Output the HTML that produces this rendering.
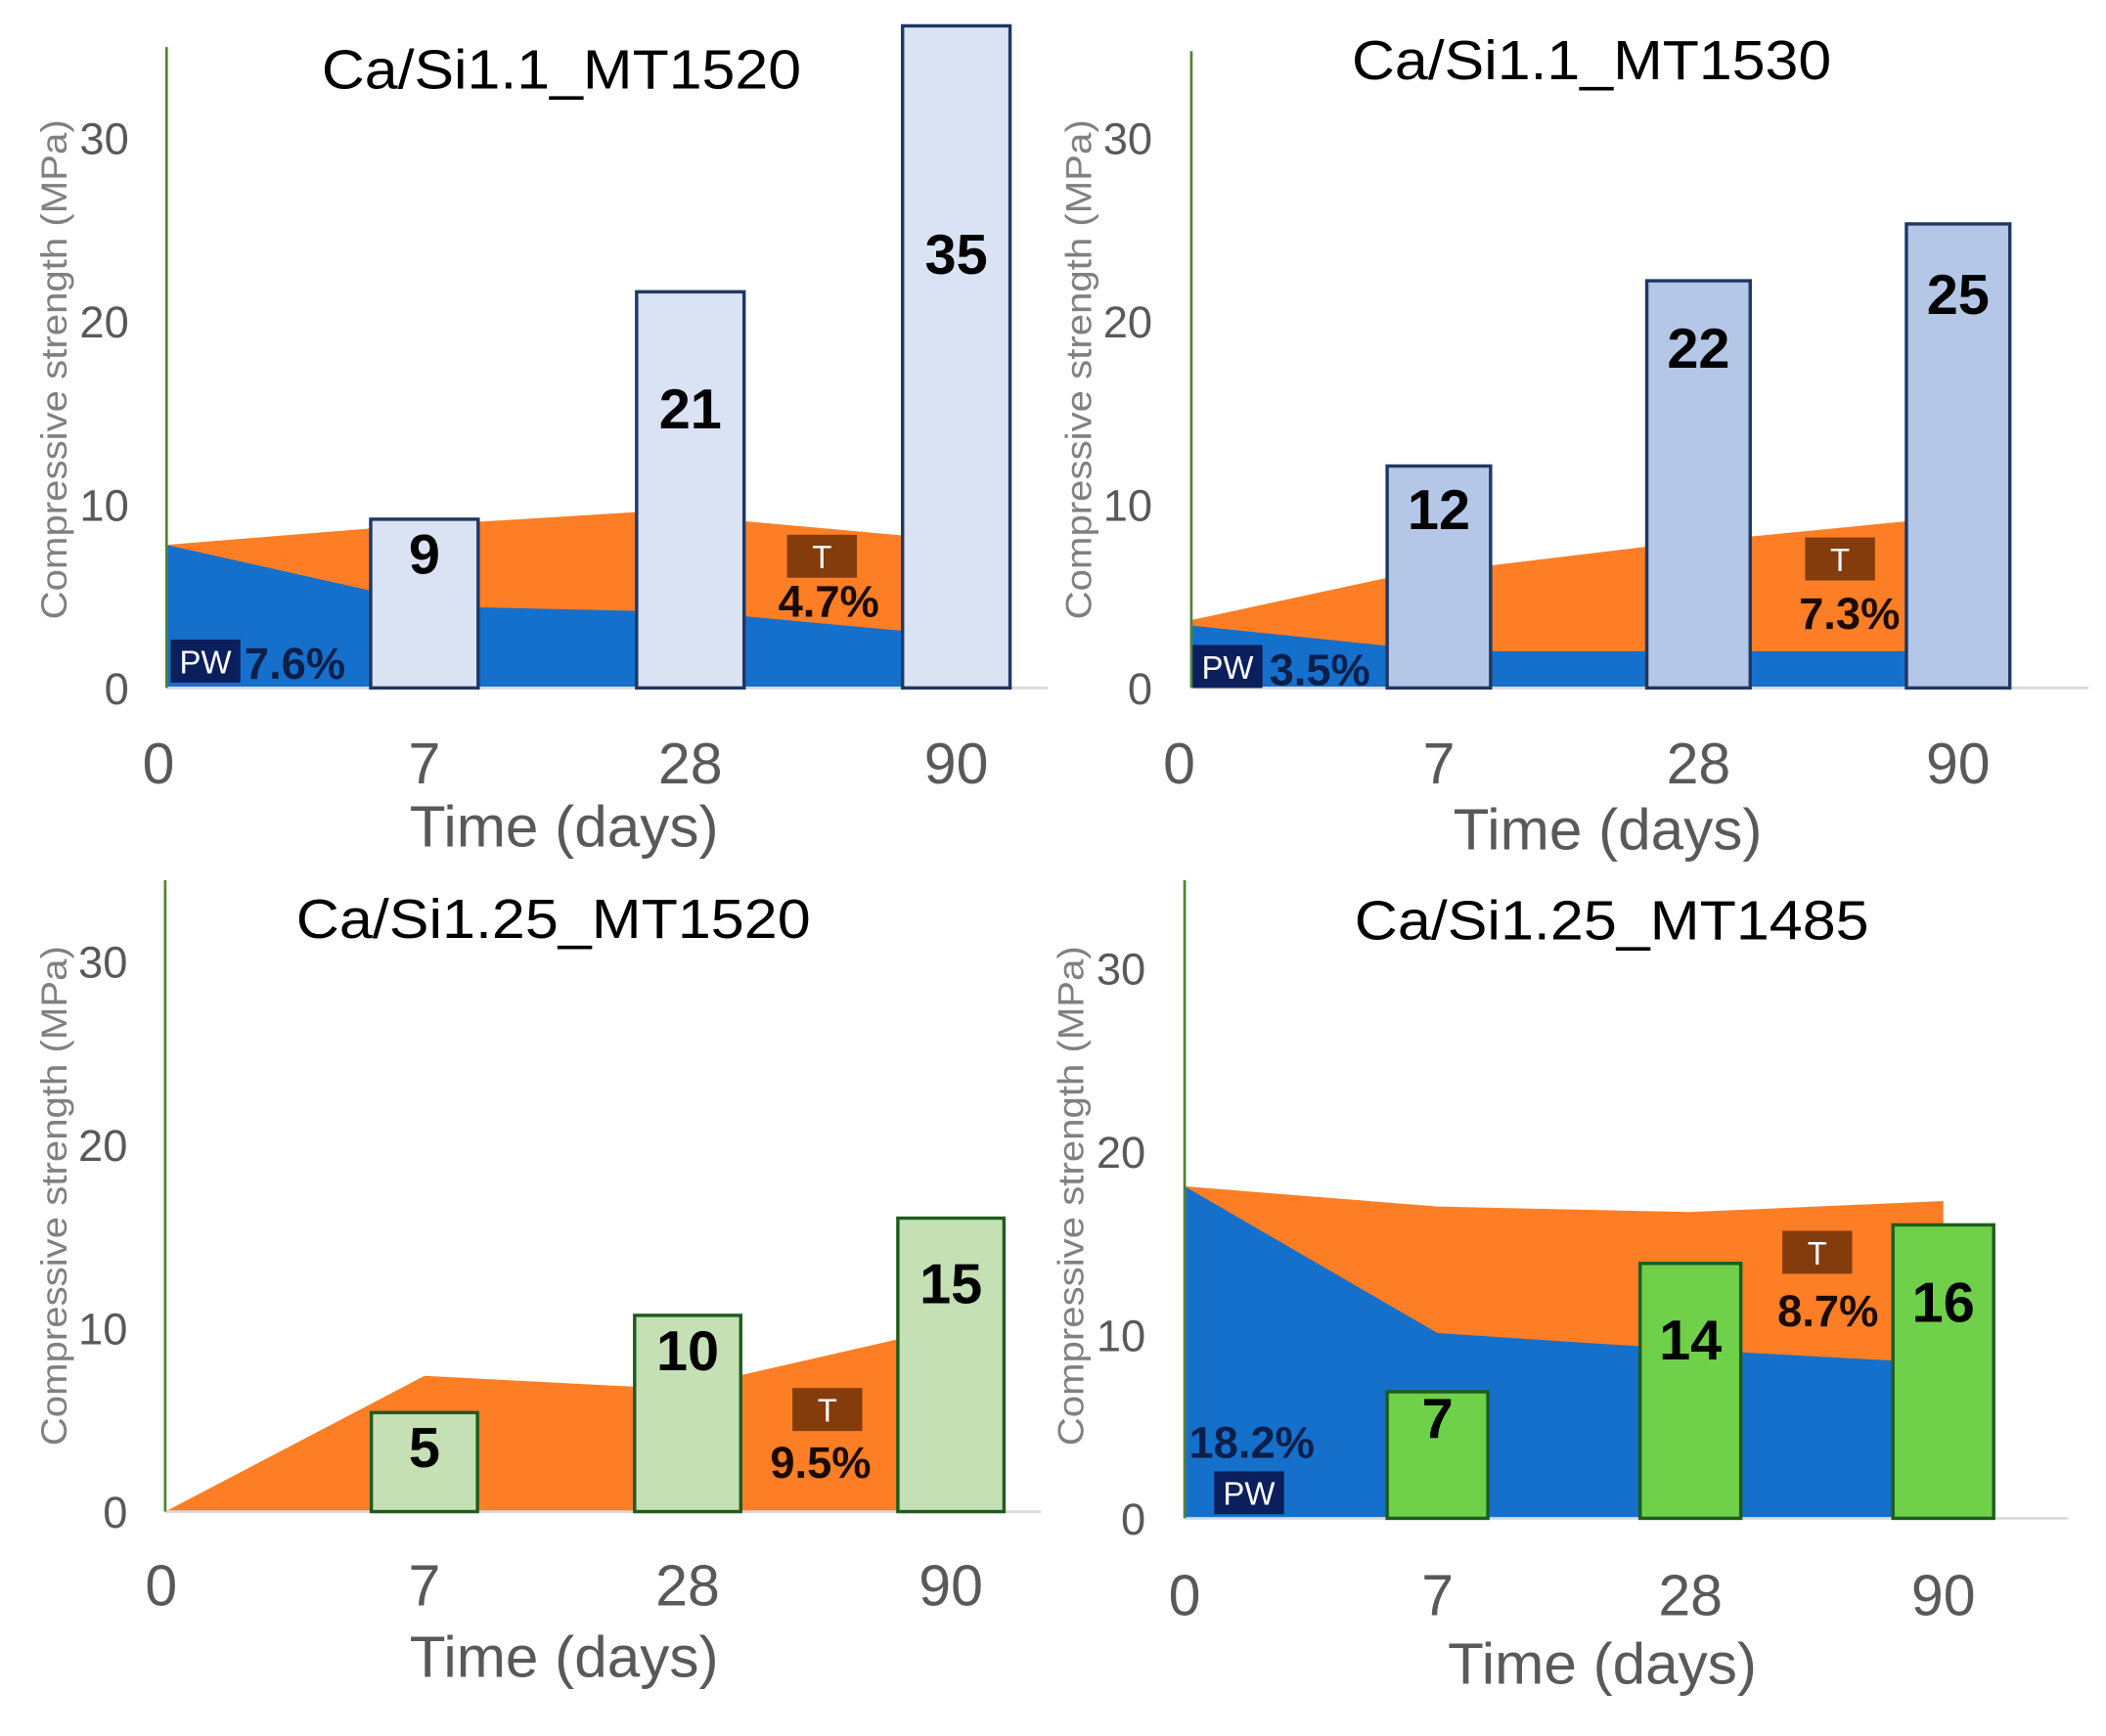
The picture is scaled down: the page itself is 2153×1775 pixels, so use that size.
<!DOCTYPE html>
<html><head><meta charset="utf-8">
<style>
html,body{margin:0;padding:0;background:#fff;}
svg{display:block;font-family:"Liberation Sans",Arial,sans-serif;}
</style></head>
<body>
<svg id="chart" width="2153" height="1775" viewBox="0 0 1568 1292" preserveAspectRatio="none" xmlns="http://www.w3.org/2000/svg"></svg>
<script>
// ---- data ----
const categories = ["0","7","28","90"];
const yTicks = [0,10,20,30];
const titles = ["Ca/Si1.1_MT1520","Ca/Si1.1_MT1530","Ca/Si1.25_MT1520","Ca/Si1.25_MT1485"];
const barValues1 = [9.2,21.6,36.1];
const barValues2 = [12.1,22.2,25.3];
const barValues3 = [5.4,10.7,16.0];
const barValues4 = [6.9,13.9,16.0];
const barLabels1 = ["9","21","35"];
const barLabels2 = ["12","22","25"];
const barLabels3 = ["5","10","15"];
const barLabels4 = ["7","14","16"];
const tAreaX1 = [0,0.8,1.81,2.81];
const tAreaY1 = [7.8,8.7,9.6,8.3];
const pwAreaX1 = [0,0.8,1.2,1.81,2.21,2.81];
const pwAreaY1 = [7.8,5.3,4.4,4.2,3.9,3.1];
const tAreaX2 = [0,0.8,1.8,2.81];
const tAreaY2 = [3.7,6.0,7.7,9.1];
const pwAreaX2 = [0,0.8,1.2,1.8,2.81];
const pwAreaY2 = [3.4,2.3,2.0,2.0,2.0];
const tAreaX3 = [0,1.0,1.81,2.19,2.8];
const tAreaY3 = [0,7.4,6.8,7.4,9.4];
const pwAreaX3 = [];
const pwAreaY3 = [];
const tAreaX4 = [0,1,2,3];
const tAreaY4 = [18.1,17.0,16.7,17.3];
const pwAreaX4 = [0,1,2,2.8];
const pwAreaY4 = [18.1,10.1,9.2,8.6];
const tPercents = ["4.7%","7.3%","9.5%","8.7%"];
const pwPercents = ["7.6%","3.5%","","18.2%"];

// ---- layout (styles / positions) ----
const NS="http://www.w3.org/2000/svg";
const svg=document.getElementById('chart');
const panels=[
 {axisX:124,y0:512,top:35,a:118,b:198,bw:80,baseEnd:780,tickX:96,titleX:418,titleY:52,xlabY:568,timeX:420,timeY:615,ytX:40,ytY:275,
  fill:"#dae3f3",stroke:"#1f3864",labY:[413,305,190],bars:barValues1,labs:barLabels1,tx:tAreaX1,ty:tAreaY1,px:pwAreaX1,py:pwAreaY1,
  T:[586,398],Tp:[617,447],PW:[127,476],PWp:[182,493]},
 {axisX:887,y0:512,top:38,a:878,b:193.3,bw:77,baseEnd:1555,tickX:858,titleX:1185,titleY:45,xlabY:568,timeX:1197,timeY:617,ytX:803,ytY:275,
  fill:"#b4c7e7",stroke:"#1f3864",labY:[380,260,220],bars:barValues2,labs:barLabels2,tx:tAreaX2,ty:tAreaY2,px:pwAreaX2,py:pwAreaY2,
  T:[1344,400],Tp:[1377,456],PW:[888,480],PWp:[945,498]},
 {axisX:123,y0:1125,top:655,a:120,b:196,bw:79,baseEnd:775,tickX:95,titleX:412,titleY:684,xlabY:1180,timeX:420,timeY:1233,ytX:40,ytY:890,
  fill:"#c5e0b4",stroke:"#1e5c1e",labY:[1078,1006,956],bars:barValues3,labs:barLabels3,tx:tAreaX3,ty:tAreaY3,px:pwAreaX3,py:pwAreaY3,
  T:[590,1033],Tp:[611,1088],PW:null,PWp:null},
 {axisX:882,y0:1130,top:655,a:882,b:188.3,bw:75,baseEnd:1540,tickX:853,titleX:1200,titleY:685,xlabY:1187,timeX:1193,timeY:1238,ytX:797,ytY:890,
  fill:"#6fd04a",stroke:"#1e5c1e",labY:[1056,998,970],bars:barValues4,labs:barLabels4,tx:tAreaX4,ty:tAreaY4,px:pwAreaX4,py:pwAreaY4,
  T:[1327,916],Tp:[1361,975],PW:[904,1095],PWp:[932,1073]}
];
const scale=13.65;
function mk(tag,attrs,parent){const e=document.createElementNS(NS,tag);for(const k in attrs)e.setAttribute(k,attrs[k]);(parent||svg).appendChild(e);return e;}
function txt(s,attrs,parent){const e=mk('text',attrs,parent);e.textContent=s;return e;}

panels.forEach((p,i)=>{
  const g=mk('g',{});
  
  
  const yS=v=>p.y0-v*scale;
  const xS=s=>Math.max(p.axisX,p.a+s*p.b);
  function area(xs,ys,color,name){
    if(!xs.length)return;
    let d='M'+xS(xs[0])+','+p.y0;
    xs.forEach((s,k)=>{d+=' L'+xS(s)+','+yS(ys[k]);});
    d+=' L'+xS(xs[xs.length-1])+','+p.y0+' Z';
    const e=mk('path',{d:d,fill:color},g);
    
    
  }
  area(p.tx,p.ty,'#fd7e24','t-area');
  area(p.px,p.py,'#1570cc','pw-area');
  const bl=mk('line',{x1:p.axisX,x2:p.baseEnd,y1:p.y0,y2:p.y0,stroke:'#d9d9d9','stroke-width':2},g);
  
  
  p.bars.forEach((v,k)=>{
    const cx=p.a+(k+1)*p.b;
    const r=mk('rect',{x:cx-p.bw/2,y:yS(v),width:p.bw,height:v*scale,fill:p.fill,stroke:p.stroke,'stroke-width':2.5},g);
    
    
    const t=txt(p.labs[k],{x:cx,y:p.labY[k],'text-anchor':'middle','dominant-baseline':'central','font-size':42,'font-weight':'bold',fill:'#000'},g);
    
    
  });
  const ya=mk('line',{x1:p.axisX,x2:p.axisX,y1:p.top,y2:p.y0,stroke:'#548235','stroke-width':2},g);
  
  
  yTicks.forEach(v=>{
    const t=txt(String(v),{x:p.tickX,y:yS(v)+12,'text-anchor':'end','font-size':33,fill:'#595959'},g);
    
    
  });
  categories.forEach((c,k)=>{
    const t=txt(c,{x:p.a+k*p.b,y:p.xlabY+15,'text-anchor':'middle','font-size':43,fill:'#595959'},g);
    
    
  });
  const tt=txt(titles[i],{x:p.titleX,y:p.titleY+14,'text-anchor':'middle','font-size':41,fill:'#000',textLength:i<2?357:(i===2?383:383),lengthAdjust:'spacingAndGlyphs'},g);
  
  
  const xt=txt('Time (days)',{x:p.timeX,y:p.timeY+15,'text-anchor':'middle','font-size':43,fill:'#595959',textLength:230,lengthAdjust:'spacingAndGlyphs'},g);
  
  
  const yt=txt('Compressive strength (MPa)',{x:p.ytX,y:p.ytY,'text-anchor':'middle','font-size':27,fill:'#808080',transform:'rotate(-90 '+p.ytX+' '+p.ytY+')','dominant-baseline':'central',textLength:372,lengthAdjust:'spacingAndGlyphs'},g);
  
  
  const tb=mk('rect',{x:p.T[0],y:p.T[1],width:52,height:32,fill:'#843c0c'},g);
  
  
  const tl=txt('T',{x:p.T[0]+26,y:p.T[1]+25,'text-anchor':'middle','font-size':24,fill:'#fff'},g);
  
  
  const tp=txt(tPercents[i],{x:p.Tp[0],y:p.Tp[1]+12,'text-anchor':'middle','font-size':33,'font-weight':'bold',fill:'#1a0a00'},g);
  
  
  if(p.PW){
    const pb=mk('rect',{x:p.PW[0],y:p.PW[1],width:52,height:32,fill:'#0b1f5c'},g);
    
    
    const pl=txt('PW',{x:p.PW[0]+26,y:p.PW[1]+25,'text-anchor':'middle','font-size':24,fill:'#fff'},g);
    
    
    const anchor=i===3?'middle':'start';
    const pp=txt(pwPercents[i],{x:p.PWp[0],y:p.PWp[1]+12,'text-anchor':anchor,'font-size':33,'font-weight':'bold',fill:'#0b1f4a'},g);
    
    
  }
});
</script>
</body></html>
